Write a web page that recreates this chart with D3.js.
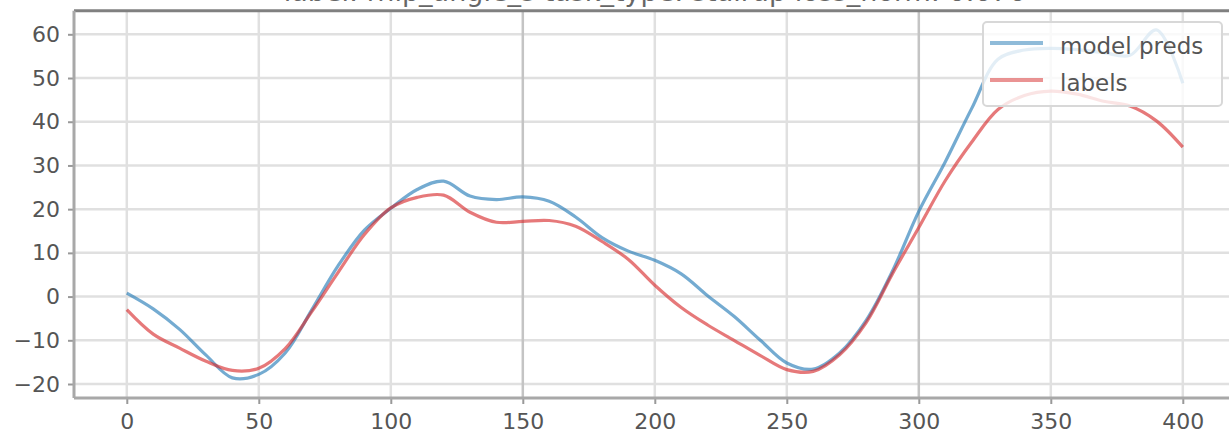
<!DOCTYPE html>
<html>
<head>
<meta charset="utf-8">
<script src="https://cdn.jsdelivr.net/npm/d3@7"></script>
<style>
  body { margin: 0; background: #fff; }
  svg { display: block; font-family: "DejaVu Sans", sans-serif; }
</style>
</head>
<body>
<div id="chart"></div>
<script>
// data (every 10 steps)
const steps = d3.range(0, 401, 10);
const modelPreds = [0.8, -2.8, -7.5, -13.4, -18.6, -17.8, -12.9, -3.1, 7.0, 15.2,
  20.2, 24.5, 26.4, 23.0, 22.2, 22.8, 21.8, 18.2, 13.5, 10.4,
  8.3, 5.2, 0.2, -4.5, -10.0, -15.2, -16.6, -12.9, -5.5, 5.8,
  19.5, 30.8, 43.0, 54.3, 56.4, 56.8, 56.5, 55.8, 55.2, 61.0, 48.8];
const labels = [-3.0, -8.6, -11.8, -14.8, -16.9, -16.4, -11.9, -3.5, 5.5, 14.2,
  20.3, 22.7, 23.2, 19.3, 17.0, 17.2, 17.4, 16.1, 12.6, 8.5,
  2.6, -2.5, -6.5, -10.0, -13.5, -16.7, -17.1, -13.3, -6.0, 5.2,
  15.8, 26.5, 35.3, 42.8, 46.0, 47.0, 46.3, 44.7, 43.6, 40.2, 34.2];
const xTicks = [0, 50, 100, 150, 200, 250, 300, 350, 400];
const yTicks = [-20, -10, 0, 10, 20, 30, 40, 50, 60];
const seriesNames = ["model preds", "labels"];
const titleText = "label: rhip_angle_s task_type: stairup  loss_norm: 0.676";

const width = 1229, height = 433;
const plotL = 74, plotR = 1235.6, plotT = 10.7, plotB = 398;

const svg = d3.select("#chart").append("svg")
  .attr("width", width).attr("height", height);

const x = d3.scaleLinear().domain([-20, 420]).range([plotL, plotR]);
const y = d3.scaleLinear().domain([-23.2, 65.4]).range([plotB, plotT]);

// grid
svg.append("g").selectAll("line").data(yTicks).enter().append("line")
  .attr("x1", plotL).attr("x2", plotR)
  .attr("y1", d => y(d)).attr("y2", d => y(d))
  .attr("stroke", "#e0e0e0").attr("stroke-width", 2.5);
svg.append("g").selectAll("line").data(xTicks).enter().append("line")
  .attr("x1", d => x(d)).attr("x2", d => x(d))
  .attr("y1", plotT).attr("y2", plotB)
  .attr("stroke", d => (d === 150 || d === 300) ? "#c4c4c4" : "#e0e0e0")
  .attr("stroke-width", 2.5);

// title (mostly cut off at the top)
svg.append("text")
  .attr("x", (plotL + plotR) / 2).attr("y", 1)
  .attr("text-anchor", "middle")
  .style("font-size", "27px").style("fill", "#666")
  .text(titleText);

// lines
const line = vals => d3.line()
  .x((d, i) => x(steps[i]))
  .y(d => y(d))
  .curve(d3.curveCatmullRom.alpha(0.5))(vals);

svg.append("path").attr("d", line(modelPreds))
  .attr("fill", "none").attr("stroke", "#1f77b4")
  .attr("stroke-opacity", 0.62).attr("stroke-width", 3.2);
svg.append("path").attr("d", line(labels))
  .attr("fill", "none").attr("stroke", "#d62728")
  .attr("stroke-opacity", 0.62).attr("stroke-width", 3.2);

// axes
const gx = svg.append("g").attr("transform", `translate(0,${plotB})`)
  .call(d3.axisBottom(x).tickValues(xTicks).tickSize(6).tickPadding(9));
const gy = svg.append("g").attr("transform", `translate(${plotL},0)`)
  .call(d3.axisLeft(y).tickValues(yTicks).tickSize(6).tickPadding(8)
    .tickFormat(d => d < 0 ? "\u2212" + Math.abs(d) : d));
[gx, gy].forEach(g => {
  g.select(".domain").remove();
  g.selectAll(".tick line").attr("stroke", "#999").attr("stroke-width", 2);
  g.selectAll("text").style("font-size", "22px").style("fill", "#555")
    .style("font-family", "DejaVu Sans");
});

// spines
svg.append("line").attr("x1", plotL).attr("x2", plotR).attr("y1", plotT).attr("y2", plotT)
  .attr("stroke", "#808080").attr("stroke-width", 3);
svg.append("line").attr("x1", plotL).attr("x2", plotL).attr("y1", plotT).attr("y2", plotB)
  .attr("stroke", "#a8a8a8").attr("stroke-width", 3);
svg.append("line").attr("x1", plotL).attr("x2", plotR).attr("y1", plotB).attr("y2", plotB)
  .attr("stroke", "#a8a8a8").attr("stroke-width", 3);

// legend
const lg = svg.append("g").attr("transform", "translate(983,22)");
lg.append("rect").attr("width", 239).attr("height", 84).attr("rx", 4)
  .attr("fill", "#fff").attr("fill-opacity", 0.8)
  .attr("stroke", "#d8d8d8").attr("stroke-width", 2);
const colors = ["#1f77b4", "#d62728"];
seriesNames.forEach((name, i) => {
  const yy = 21 + i * 37;
  lg.append("line").attr("x1", 7).attr("x2", 60).attr("y1", yy).attr("y2", yy)
    .attr("stroke", colors[i]).attr("stroke-opacity", 0.5).attr("stroke-width", 4);
  lg.append("text").attr("x", 77).attr("y", yy + 11)
    .style("font-size", "23px").style("fill", "#555").text(name);
});
</script>
</body>
</html>
